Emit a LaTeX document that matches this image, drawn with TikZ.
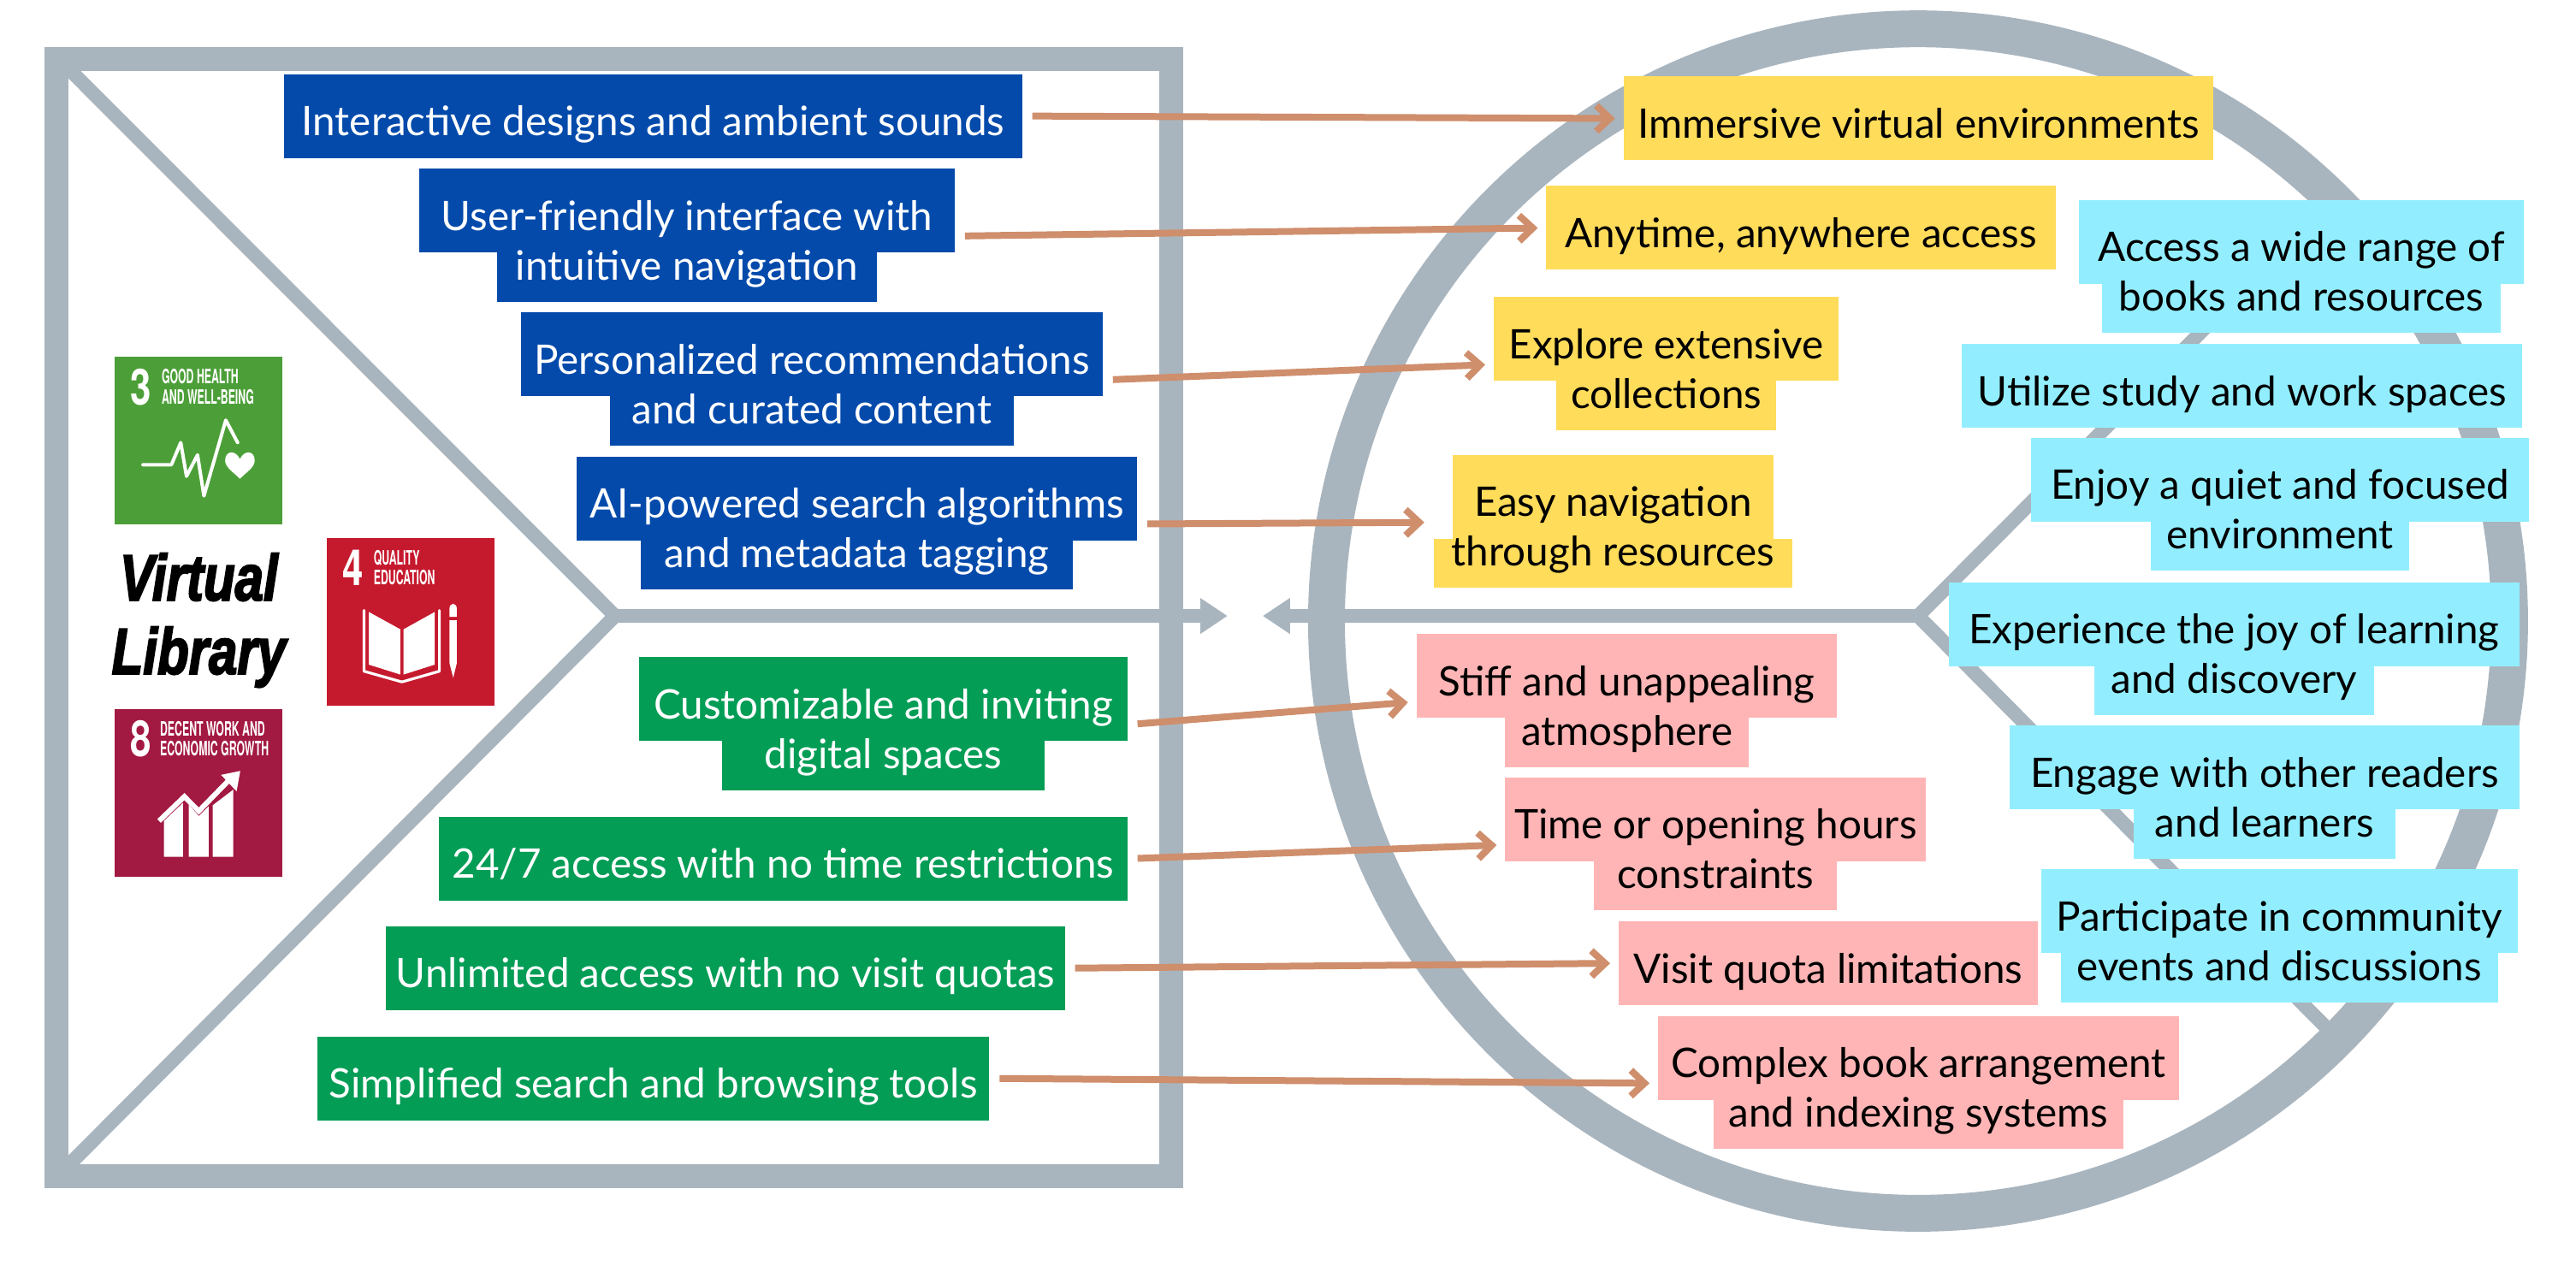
\documentclass[tikz,border=0pt]{standalone}
\usepackage{fontspec}
\setmainfont{Lato}
\newfontfamily\sdgfont{TeX Gyre Heros}
\newfontfamily\vlibfont[BoldItalicFeatures={FakeBold=3}]{Liberation Sans}
\usetikzlibrary{arrows.meta,positioning}
\definecolor{framegray}{HTML}{A9B5BE}
\definecolor{barblue}{HTML}{034AAB}
\definecolor{bargreen}{HTML}{049D56}
\definecolor{baryellow}{HTML}{FFDC5A}
\definecolor{barpink}{HTML}{FFB5B5}
\definecolor{barcyan}{HTML}{92EEFF}
\definecolor{linkbrown}{HTML}{CF8E6C}
\definecolor{sdggreen}{HTML}{4C9F38}
\definecolor{sdgred}{HTML}{C5192D}
\definecolor{sdgmaroon}{HTML}{A21942}
\newcommand{\sdgtxt}[2]{\scalebox{#1}[1]{#2}}

\begin{document}
\begin{tikzpicture}[x=0.4802pt,y=-0.4808pt,
  bone/.style={draw=framegray,line width=4.1pt,line join=miter},
  spine/.style={bone,-{Triangle[length=8pt,width=10pt]}},
  link/.style={draw=linkbrown,line width=2pt,shorten <=3pt,shorten >=2.5pt,-{Straight Barb[length=4pt,width=7.5pt,line width=2pt]}},
  bar/.style={inner sep=0,outer sep=0,minimum width=#1*0.4802pt,font=\fontsize{11.9}{14}\selectfont},
  lineone/.style={bar=#1,text height=18pt,text depth=6.5pt},
  linetwo/.style 2 args={bar=#1,text height=8pt,text depth=6.4pt,below=0pt of #2},
  bluebar/.style={fill=barblue,text=white},
  greenbar/.style={fill=bargreen,text=white},
  yellowbar/.style={fill=baryellow},
  pinkbar/.style={fill=barpink},
  cyanbar/.style={fill=barcyan},
  sdgbox/.style={minimum width=49pt,minimum height=49pt,inner sep=0,outer sep=0},
  sdgnum/.style={inner sep=0,text=white,anchor=base west,font=\sdgfont\bfseries\fontsize{14.6}{15}\selectfont},
  sdgname/.style={inner sep=0,text=white,anchor=north west,align=left,font=\sdgfont\bfseries\fontsize{5.8}{5.8}\selectfont},
  icon/.style={draw=white,line width=1pt,line join=round,line cap=round},
]
\useasboundingbox (0,0) rectangle (1567.6,769.1);

% left frame and its bones
\coordinate (lefthub) at (374.3,374.4);
\coordinate (lefttip) at (747,374.4);
\coordinate (righthub) at (1167.2,374.4);
\coordinate (righttip) at (768.4,374.4);
\draw[draw=framegray,line width=7pt] (34.6,35.9) rectangle (712.5,715);
\draw[bone] (38,38) -- (lefthub) -- (38,712);
\draw[spine] (lefthub) -- (lefttip);

% right ring and its bones
\draw[draw=framegray,line width=10.75pt] (1167.2,377.5) circle [radius=360];
\draw[bone] (1421,120) -- (righthub) -- (1421,630);
\draw[spine] (righthub) -- (righttip);

% goal tiles
\node[sdgbox,fill=sdggreen] (goal3) at (121,268) {};
\node[sdgbox,fill=sdgred] (goal4) at (250,378) {};
\node[sdgbox,fill=sdgmaroon] (goal8) at (121,482) {};

\node[sdgnum] (num3) at (79,246) {\sdgtxt{.75}{3}};
\node[sdgname] (name3) at (98,224) {\sdgtxt{.53}{GOOD HEALTH}\\\sdgtxt{.53}{AND WELL-BEING}};
\node[sdgnum] (num4) at (208,356) {\sdgtxt{.75}{4}};
\node[sdgname] (name4) at (227,334) {\sdgtxt{.53}{QUALITY}\\\sdgtxt{.53}{EDUCATION}};
\node[sdgnum] (num8) at (79,460) {\sdgtxt{.75}{8}};
\node[sdgname] (name8) at (97,438) {\sdgtxt{.53}{DECENT WORK AND}\\\sdgtxt{.53}{ECONOMIC GROWTH}};

\draw[icon] (87,282.5) -- (104.3,282.5) -- (110,269) -- (113.5,289.5) -- (120.2,276.5) -- (124.1,301.4) -- (137.4,255.4) -- (144.6,269);
\fill[white] (146,279) .. controls (143,273) and (137,274) .. (137,280) .. controls (137,284) and (142,287) .. (146,291) .. controls (150,287) and (155,284) .. (155,280) .. controls (155,274) and (149,273) .. (146,279);

\fill[white] (224.5,372) -- (243.6,382.5) -- (243.6,410) -- (224.5,404) -- cycle;
\fill[white] (245.6,382.5) -- (264.5,372) -- (264.5,404) -- (245.6,410) -- cycle;
\draw[icon,line width=.8pt] (221.5,371) -- (221.5,408) -- (244.6,414.5) -- (267.4,408) -- (267.4,371);
\fill[white] (273.5,370) arc [start angle=180,end angle=360,x radius=2.25,y radius=3] -- (278,375) -- (273.5,375) -- cycle;
\fill[white] (273.5,377) -- (278,377) -- (278,403) -- (275.8,412) -- (273.5,403) -- cycle;

\fill[white] (99.7,499) -- (111.4,488) -- (111.4,520.8) -- (99.7,520.8) -- cycle;
\fill[white] (114.9,489) -- (121,496) -- (127,490) -- (127,520.8) -- (114.9,520.8) -- cycle;
\fill[white] (129.4,489.5) -- (141.9,480) -- (141.9,520.8) -- (129.4,520.8) -- cycle;
\draw[draw=white,line width=1.5pt] (96.8,499) -- (112.2,484.2) -- (121,493) -- (141,472.5);
\fill[white] (146.2,468.6) -- (134.5,471) -- (144,481) -- cycle;

\node[inner sep=0,align=center,font=\vlibfont\bfseries\itshape\fontsize{19}{21.5}\selectfont] (vlib) at (121,377) {\sdgtxt{.79}{Virtual}\\\sdgtxt{.79}{Library}};

% solutions, blue and green
\node[lineone=449,bluebar] (design) at (397.5,70.5) {Interactive designs and ambient sounds};
\node[lineone=326,bluebar] (friendly) at (418,128) {User-friendly interface with};
\node[linetwo={231}{friendly},bluebar] (friendlyb) {intuitive navigation};
\node[lineone=354,bluebar] (person) at (494,215.5) {Personalized recommendations};
\node[linetwo={246}{person},bluebar] (personb) {and curated content};
\node[lineone=341,bluebar] (search) at (521.5,303) {AI-powered search algorithms};
\node[linetwo={263}{search},bluebar] (searchb) {and metadata tagging};

\node[lineone=297,greenbar] (custom) at (537.5,425) {Customizable and inviting};
\node[linetwo={196}{custom},greenbar] (customb) {digital spaces};
\node[lineone=419,greenbar] (allday) at (476.5,522) {24/7 access with no time restrictions};
\node[lineone=413,greenbar] (unlimited) at (441.5,588.5) {Unlimited access with no visit quotas};
\node[lineone=409,greenbar] (simple) at (397.5,655.5) {Simplified search and browsing tools};

% what it gives, yellow
\node[lineone=359,yellowbar] (immerse) at (1167.5,72) {Immersive virtual environments};
\node[lineone=310,yellowbar] (anytime) at (1096,138.5) {Anytime, anywhere access};
\node[lineone=210,yellowbar] (explore) at (1014,206) {Explore extensive};
\node[linetwo={134}{explore},yellowbar] (exploreb) {collections};
\node[lineone=195,yellowbar] (easy) at (981.5,302) {Easy navigation};
\node[linetwo={218}{easy},yellowbar] (easyb) {through resources};

% what it removes, pink
\node[lineone=256,pinkbar] (stiff) at (990,411) {Stiff and unappealing};
\node[linetwo={148}{stiff},pinkbar] (stiffb) {atmosphere};
\node[lineone=256,pinkbar] (hours) at (1044,498) {Time or opening hours};
\node[linetwo={148}{hours},pinkbar] (hoursb) {constraints};
\node[lineone=255,pinkbar] (quota) at (1112.5,585.5) {Visit quota limitations};
\node[lineone=317,pinkbar] (complex) at (1167.5,643) {Complex book arrangement};
\node[linetwo={249}{complex},pinkbar] (complexb) {and indexing systems};

% the physical library, cyan
\node[lineone=271,cyanbar] (range) at (1400.5,147) {Access a wide range of};
\node[linetwo={243}{range},cyanbar] (rangeb) {books and resources};
\node[lineone=341,cyanbar] (study) at (1364.5,234.5) {Utilize study and work spaces};
\node[lineone=303,cyanbar] (quiet) at (1387.5,291.5) {Enjoy a quiet and focused};
\node[linetwo={157}{quiet},cyanbar] (quietb) {environment};
\node[lineone=347,cyanbar] (joy) at (1359.5,379.5) {Experience the joy of learning};
\node[linetwo={170}{joy},cyanbar] (joyb) {and discovery};
\node[lineone=310,cyanbar] (engage) at (1378,466.5) {Engage with other readers};
\node[linetwo={159}{engage},cyanbar] (engageb) {and learners};
\node[lineone=290,cyanbar] (events) at (1387,554) {Participate in community};
\node[linetwo={266}{events},cyanbar] (eventsb) {events and discussions};

% links
\draw[link] (design.east) -- (immerse.west);
\draw[link] ([yshift=4.8pt]friendly.south east) -- (anytime.west);
\draw[link] ([yshift=4.8pt]person.south east) -- ([yshift=4.8pt]explore.south west);
\draw[link] ([yshift=4.8pt]search.south east) -- ([xshift=-5.8pt,yshift=4.8pt]easy.south west);
\draw[link] ([yshift=4.8pt]custom.south east) -- ([yshift=4.8pt]stiff.south west);
\draw[link] (allday.east) -- ([yshift=4.8pt]hours.south west);
\draw[link] (unlimited.east) -- (quota.west);
\draw[link] (simple.east) -- ([yshift=4.8pt]complex.south west);
\end{tikzpicture}
\end{document}
